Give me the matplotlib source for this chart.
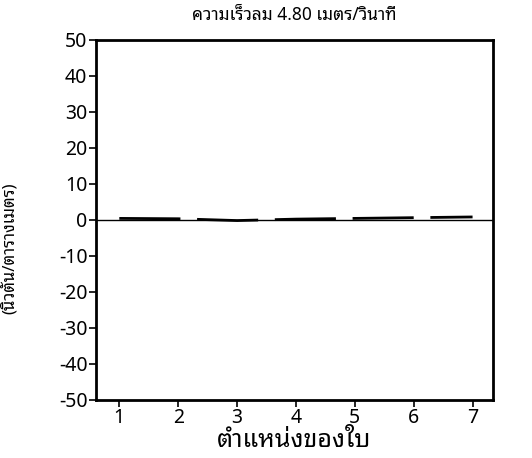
import matplotlib
matplotlib.use("Agg")
import matplotlib.pyplot as plt

# Leaf positions and measured pressure at wind speed 4.80 m/s
positions = [1, 2, 3, 4, 5, 6, 7]
pressure = [0.4, 0.3, -0.2, 0.2, 0.4, 0.6, 0.8]
y_ticks = [50, 40, 30, 20, 10, 0, -10, -20, -30, -40, -50]

title_text = "ความเร็วลม 4.80 เมตร/วินาที"
x_label = "ตำแหน่งของใบ"
y_label = "(นิวตัน/ตารางเมตร)"

plt.rcParams['font.family'] = ['Noto Sans Thai Looped', 'DejaVu Sans']
plt.rcParams['axes.unicode_minus'] = False

fig = plt.figure(figsize=(5.32, 4.58), dpi=100)
ax = fig.add_axes([0.180, 0.127, 0.747, 0.786])

# zero reference line and the measured pressure curve
ax.axhline(0, color="black", lw=1.0)
ax.plot(positions, pressure, color="black", lw=2.0, dashes=(22, 6))

ax.set_xlim(0.6, 7.35)
ax.set_ylim(-50, 50)
ax.set_xticks(positions)
ax.set_yticks(y_ticks)
ax.set_yticklabels([str(v) for v in y_ticks])
ax.tick_params(axis="both", direction="out", length=5, width=1.2, labelsize=14, pad=1)
for s in ax.spines.values():
    s.set_linewidth(2.0)

ax.set_title(title_text, fontsize=12.5, pad=14)
ax.set_xlabel(x_label, fontsize=18, labelpad=0)
ax.set_ylabel(y_label, fontsize=12)
ax.yaxis.set_label_coords(-0.196, 0.42)

fig.savefig("out.png", dpi=100)
